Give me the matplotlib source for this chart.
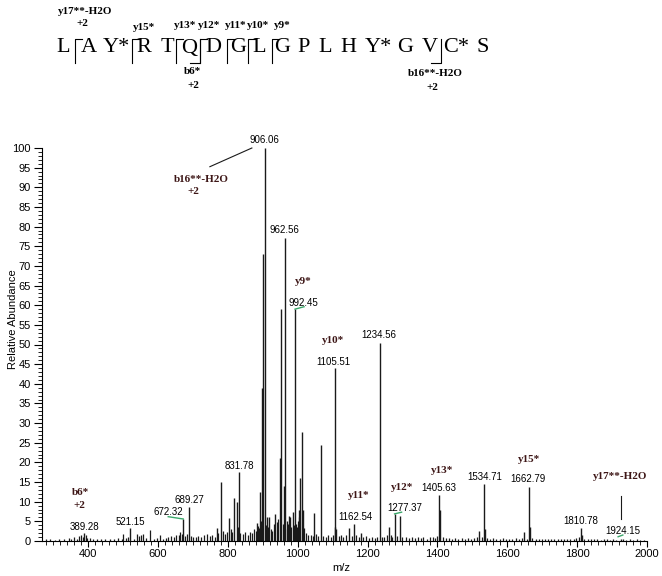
import matplotlib
matplotlib.use('Agg')
import matplotlib.pyplot as plt
from matplotlib.ticker import MultipleLocator
from matplotlib.lines import Line2D
from matplotlib.transforms import IdentityTransform

plt.rcParams['font.family'] = ['Liberation Sans', 'DejaVu Sans']

# ---- data ----
# labelled peaks (m/z, relative abundance)
label_mz = [389.28, 521.15, 672.32, 689.27, 831.78, 906.06, 962.56, 992.45, 1105.51,
            1162.54, 1234.56, 1277.37, 1405.63, 1534.71, 1662.79, 1810.78, 1924.15]
label_int = [2.0, 3.2, 5.6, 8.7, 17.5, 100, 77, 59, 44,
             4.2, 50.5, 6.9, 11.7, 14.4, 13.8, 3.2, 0.6]

# other clearly visible peaks
peak_mz = [769, 780, 803, 819, 825, 883, 893, 899, 902, 912, 919, 936, 948, 953, 960,
           976, 979, 986, 1003, 1008, 1012, 1016, 1047, 1066, 1108, 1111, 1148, 1180,
           1262, 1292, 1408, 1520, 1537, 1649, 1666, 1813]
peak_int = [3.3, 15, 5.8, 11, 10, 4.7, 12.5, 39, 73, 6, 6, 6.8, 21, 59, 14,
            6.4, 6.2, 7.5, 8, 16, 27.7, 8, 7.2, 24.4, 3.5, 3.0, 3.3, 2.0,
            3.5, 6.3, 7.9, 2.5, 3.0, 2.4, 3.5, 1.5]

# small baseline peaks
noise_mz = [280, 292, 305, 318, 331, 344, 352, 361, 368, 375, 381, 386, 393, 398, 405, 414,
            425, 437, 449, 462, 474, 486, 497, 501, 509, 515, 532, 540, 546, 552, 558, 566,
            578, 588, 597, 606, 614, 622, 630, 638, 645, 652, 659, 663, 668, 678, 684, 694,
            700, 708, 716, 724, 732, 741, 749, 756, 763, 773, 786, 792, 797, 808, 813, 828,
            836, 843, 850, 857, 864, 870, 876, 880, 887, 890, 896, 908, 915, 923, 927, 931,
            940, 944, 957, 965, 969, 972, 982, 989, 996, 999, 1001, 1005, 1019, 1024, 1030,
            1037, 1043, 1052, 1058, 1072, 1080, 1088, 1095, 1100, 1117, 1124, 1131, 1138,
            1155, 1168, 1175, 1188, 1196, 1203, 1212, 1220, 1228, 1240, 1248, 1256, 1266,
            1271, 1284, 1299, 1310, 1318, 1327, 1335, 1344, 1352, 1360, 1369, 1378, 1386,
            1393, 1400, 1415, 1424, 1433, 1442, 1451, 1460, 1469, 1478, 1487, 1496, 1505,
            1513, 1527, 1542, 1551, 1560, 1569, 1578, 1587, 1596, 1605, 1614, 1624, 1633,
            1642, 1656, 1672, 1681, 1690, 1699, 1708, 1717, 1726, 1735, 1744, 1753, 1762,
            1771, 1780, 1790, 1798, 1806, 1820, 1830, 1840, 1849, 1858, 1867, 1876, 1885,
            1894, 1903, 1912, 1931, 1940, 1950, 1960, 1970, 1980, 1990]
noise_int = [0.4, 0.6, 0.3, 0.5, 0.4, 0.7, 0.5, 0.9, 0.6, 1.2, 1.5, 1.0, 1.6, 0.8, 0.7, 0.5,
             0.6, 0.4, 0.5, 0.6, 0.4, 0.8, 0.6, 1.9, 0.7, 0.9, 0.6, 1.7, 1.2, 1.6, 1.7, 0.8,
             2.7, 0.6, 0.7, 1.5, 0.6, 0.8, 1.0, 1.2, 1.0, 1.4, 1.6, 2.4, 1.9, 1.3, 1.8, 1.2,
             0.9, 1.0, 1.3, 0.9, 1.5, 1.8, 1.2, 1.4, 1.1, 2.0, 2.5, 1.8, 2.2, 3.0, 2.2, 3.5,
             2.0, 1.8, 2.2, 1.6, 2.4, 2.0, 3.0, 2.6, 3.8, 3.2, 5.0, 4.0, 3.6, 3.0, 2.6, 4.4,
             4.8, 5.5, 4.2, 3.0, 5.0, 4.2, 3.6, 4.0, 4.4, 3.6, 5.2, 6.0, 3.2, 2.0, 1.6,
             1.4, 1.2, 1.8, 1.3, 1.2, 1.0, 1.4, 1.1, 1.6, 1.2, 1.5, 1.0, 1.6,
             1.3, 1.4, 0.9, 1.0, 1.2, 0.8, 0.9, 0.7, 1.0, 1.1, 0.9, 1.4, 1.6,
             1.0, 1.3, 0.9, 1.0, 0.7, 1.1, 0.8, 1.0, 0.7, 0.9, 0.6, 0.9, 1.0,
             0.8, 1.2, 0.9, 0.7, 0.8, 0.6, 0.8, 0.6, 0.7, 0.5, 0.8, 0.6, 0.7,
             0.9, 1.0, 0.8, 0.6, 0.7, 0.5, 0.6, 0.7, 0.5, 0.6, 0.5, 0.7, 0.6,
             0.8, 0.6, 0.7, 0.5, 0.6, 0.5, 0.6, 0.5, 0.6, 0.4, 0.5, 0.6, 0.4,
             0.5, 0.4, 0.5, 0.7, 0.9, 0.5, 0.4, 0.5, 0.4, 0.5, 0.3, 0.4, 0.5,
             0.3, 0.4, 0.3, 0.4, 0.3, 0.4, 0.3, 0.4, 0.3, 0.3]

# ion annotations on the spectrum: (anchor peak, text)
ion_anchor = [389.28, 389.28, 992.45, 1105.51, 1162.54, 1277.37, 1405.63, 1662.79, 1924.15, 906.06, 906.06]
ion_text = ['b6*', '+2', 'y9*', 'y10*', 'y11*', 'y12*', 'y13*', 'y15*', 'y17**-H2O', 'b16**-H2O', '+2']

# peptide sequence shown above the spectrum
residues = ['L', 'A', 'Y*', 'R', 'T', 'Q', 'D', 'G', 'L', 'G', 'P', 'L', 'H', 'Y*', 'G', 'V', 'C*', 'S']

# ---- layout (pixels) ----
W, H = 662, 576
PT = 0.72  # points per pixel at 100 dpi
# offsets of number labels from peak top (px, y up)
num_off = [(0, 6), (0, 6.4), (-15, 7.3), (0, 6.8), (0, 6.5), (0, 8), (0, 8.4), (8, 6.4), (-1, 6.3),
           (0.5, 7.8), (-1, 7.5), (10.4, 5.6), (-1, 7.3), (0, 7.1), (-1, 7.8), (0, 7.7), (2, 7.6)]
ion_off = [(-3.4, 40.4), (-5, 28), (8, 27.4), (-2, 28), (4, 28.8), (8, 26.6), (2.3, 25), (0, 26.8),
           (0, 62), (-64, -32), (-72, -43.7)]
res_x = [63, 89, 116, 144, 167, 189, 213, 238, 259, 282, 304, 325, 348, 378, 405, 430, 456, 483]

fig = plt.figure(figsize=(W / 100, H / 100), dpi=100)
ax = fig.add_axes([42 / W, 1 - 541 / H, 605 / W, 393 / H])

ink = '#1a1a1a'
ax.vlines(noise_mz, 0, noise_int, color=ink, lw=0.9)
ax.vlines(peak_mz, 0, peak_int, color=ink, lw=1.0)
ax.vlines(label_mz, 0, label_int, color=ink, lw=1.0)

ax.set_xlim(268, 2000)
ax.set_ylim(0, 100)
for s in ['top', 'right']:
    ax.spines[s].set_visible(False)
for s in ['left', 'bottom']:
    ax.spines[s].set_linewidth(0.8)
ax.xaxis.set_major_locator(MultipleLocator(200))
ax.xaxis.set_minor_locator(MultipleLocator(20))
ax.yaxis.set_major_locator(MultipleLocator(5))
ax.yaxis.set_minor_locator(MultipleLocator(1))
ax.tick_params(which='major', direction='out', length=6, width=0.8, labelsize=8, pad=2)
ax.tick_params(axis='x', which='major', length=4)
ax.tick_params(which='minor', direction='out', length=3, width=0.6)
ax.set_xlabel('m/z', fontsize=8)
ax.set_ylabel('Relative Abundance', fontsize=8)
ax.xaxis.set_label_coords(0.494, -0.057)
ax.yaxis.set_label_coords(-0.039, 0.565)

for mz, it, (dx, dy) in zip(label_mz, label_int, num_off):
    ax.annotate(f'{mz:.2f}', (mz, it), xytext=(dx * PT, dy * PT), textcoords='offset points',
                ha='center', va='center', fontsize=7, annotation_clip=False)

lookup = dict(zip(label_mz, label_int))
ion_color = '#3d1616'
for mz, txt, (dx, dy) in zip(ion_anchor, ion_text, ion_off):
    ax.annotate(txt, (mz, lookup[mz]), xytext=(dx * PT, dy * PT), textcoords='offset points',
                ha='center', va='center', fontsize=8, fontweight='bold', color=ion_color,
                family=['Liberation Serif', 'DejaVu Serif'], annotation_clip=False)


def seg(mz, p0, p1, **kw):
    x, y = ax.transData.transform((mz, lookup[mz]))
    fig.add_artist(Line2D([x + p0[0], x + p1[0]], [y + p0[1], y + p1[1]],
                          transform=IdentityTransform(), **kw))


green = '#3aa86a'
seg(906.06, (-13, 0), (-55, -18.7), color=ink, lw=0.8)
seg(1924.15, (0.6, 43), (0.6, 19.3), color=ink, lw=0.8)
seg(672.32, (0, 0), (-15, 2.3), color=green, lw=1.0)
seg(992.45, (0, 0), (9, 2.4), color=green, lw=1.0)
seg(1277.37, (0, 0), (7, 1.7), color=green, lw=1.0)
seg(1924.15, (-2.4, 1.9), (2.3, 3.6), color=green, lw=1.0)

# ---- sequence header (pixel coordinates, y down) ----
top = fig.add_axes([0, 0, 1, 1], facecolor='none')
top.set_xlim(0, W)
top.set_ylim(H, 0)
top.axis('off')
serif = ['Liberation Serif', 'DejaVu Serif']
for r, x in zip(residues, res_x):
    top.text(x, 48, r, ha='center', va='center', fontsize=16, family=serif)

# y-ion brackets (top hook to the right) and b-ion brackets (bottom hook to the left)
for x in [75, 132, 176, 200, 227, 248, 272]:
    top.plot([x, x, x + 7], [63, 39, 39], color='black', lw=0.8)
for x in [200, 441]:
    top.plot([x - 10, x, x], [63, 63, 39], color='black', lw=0.8)

head_txt = ['y17**-H2O', '+2', 'y15*', 'y13*', 'y12*', 'y11*', 'y10*', 'y9*',
            'b6*', '+2', 'b16**-H2O', '+2']
head_xy = [(85, 12), (82, 24), (144, 28), (185, 25), (209, 25), (236, 25), (258, 25), (282, 25),
           (193, 72), (193, 86), (435, 73), (432, 87)]
for t, (x, y) in zip(head_txt, head_xy):
    top.text(x, y, t, ha='center', va='center', fontsize=8, fontweight='bold', family=serif)

fig.savefig('out.png', dpi=100)
